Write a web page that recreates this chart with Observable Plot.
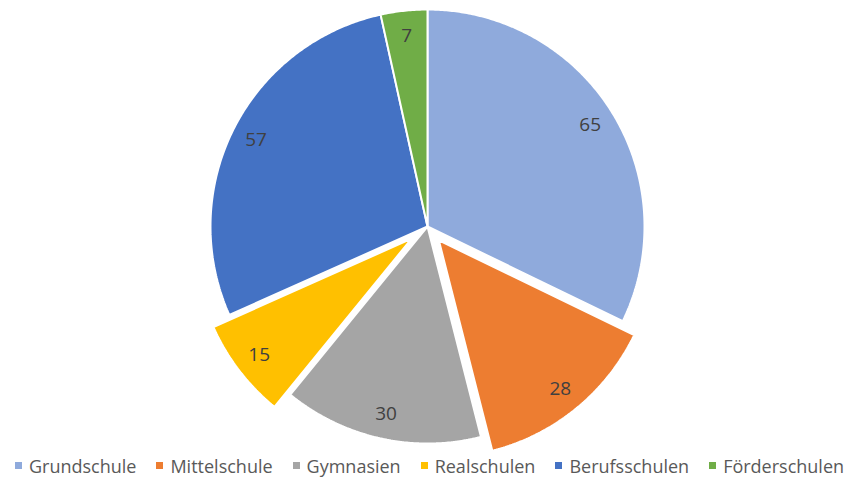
<!DOCTYPE html>
<html>
<head>
<meta charset="utf-8">
<script src="https://cdn.jsdelivr.net/npm/d3@7"></script>
<script src="https://cdn.jsdelivr.net/npm/@observablehq/plot@0.6"></script>
<style>
  html, body { margin: 0; padding: 0; background: #fff; }
  body { width: 851px; height: 477px; overflow: hidden; font-family: "Open Sans", sans-serif; }
  #chart svg { display: block; }
  #legend { display: flex; justify-content: center; align-items: center; height: 27px; margin-top: 2px; padding-left: 8px; gap: 20px; font-size: 18px; color: #595959; white-space: nowrap; }
  .item { display: flex; align-items: center; }
  .sw { width: 7px; height: 7px; margin-right: 7px; }
</style>
</head>
<body>
<div id="chart"></div>
<div id="legend"></div>
<script>
const categories = ["Grundschule", "Mittelschule", "Gymnasien", "Realschulen", "Berufsschulen", "Förderschulen"];
const values = [65, 28, 30, 15, 57, 7];
const colors = ["#8FAADC", "#ED7D31", "#A5A5A5", "#FFC000", "#4472C4", "#70AD47"];
const exploded = [0, 18, 0, 20, 0, 0];

const W = 851, H = 450, R = 217, CX = 427, CY = 226, LR = 192;

const arcs = d3.pie().sort(null).value(d => d)(values);

const marks = [];
const labels = [];
arcs.forEach((a, i) => {
  const mid = (a.startAngle + a.endAngle) / 2;
  const ox = exploded[i] * Math.sin(mid), oy = exploded[i] * Math.cos(mid);
  const pts = [{x: ox, y: oy}];
  const n = Math.max(2, Math.ceil((a.endAngle - a.startAngle) / (Math.PI / 360)));
  for (let k = 0; k <= n; k++) {
    const t = a.startAngle + (a.endAngle - a.startAngle) * k / n;
    pts.push({x: ox + R * Math.sin(t), y: oy + R * Math.cos(t)});
  }
  pts.push({x: ox, y: oy});
  marks.push(Plot.line(pts, {x: "x", y: "y", fill: colors[i], stroke: "white", strokeWidth: 2, strokeLinejoin: "miter", curve: "linear"}));
  labels.push({x: ox + LR * Math.sin(mid), y: oy + LR * Math.cos(mid), text: String(values[i])});
});
marks.push(Plot.text(labels, {x: "x", y: "y", text: "text", fontSize: 19, fill: "#404040", fontFamily: "Open Sans"}));

const chart = Plot.plot({
  width: W, height: H,
  marginTop: 0, marginBottom: 0, marginLeft: 0, marginRight: 0,
  x: {domain: [-CX, W - CX], range: [0, W], axis: null},
  y: {domain: [-(H - CY), CY], axis: null},
  marks
});
document.getElementById("chart").appendChild(chart);

const legend = document.getElementById("legend");
categories.forEach((c, i) => {
  const it = document.createElement("div");
  it.className = "item";
  const sw = document.createElement("span");
  sw.className = "sw";
  sw.style.background = colors[i];
  it.appendChild(sw);
  it.appendChild(document.createTextNode(c));
  legend.appendChild(it);
});
</script>
</body>
</html>
